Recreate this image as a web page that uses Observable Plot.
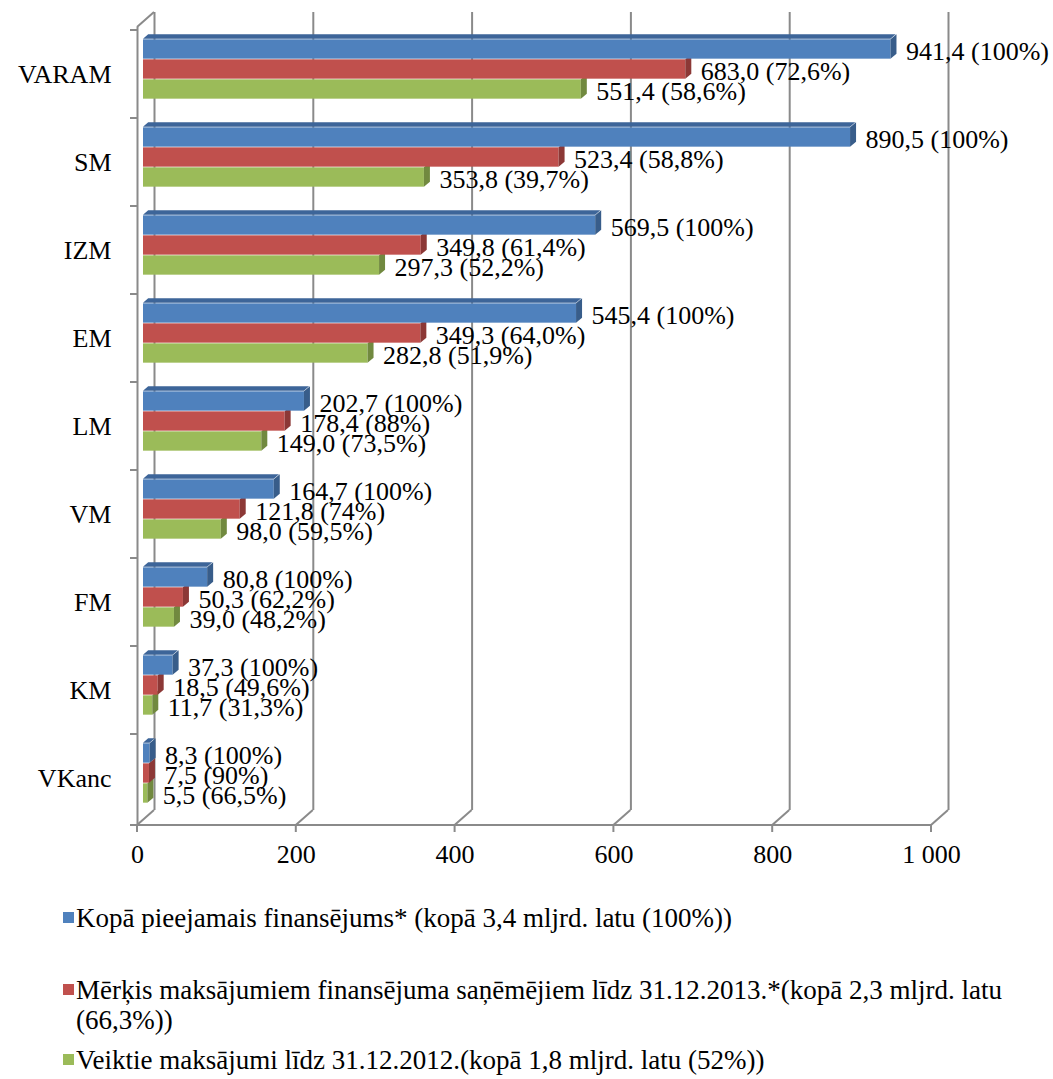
<!DOCTYPE html>
<html>
<head>
<meta charset="utf-8">
<script src="https://cdn.jsdelivr.net/npm/d3@7"></script>
<script src="https://cdn.jsdelivr.net/npm/@observablehq/plot@0.6"></script>
<style>
  body { margin: 0; background: #fff; }
  #wrap { position: relative; width: 1053px; height: 1079px; font-family: "Liberation Serif", "Times New Roman", serif; }
  .item { position: absolute; left: 63px; width: 975px; display: flex; align-items: flex-start; font-size: 27px; line-height: 30px; color: #000; }
  .sw { width: 11px; height: 11px; margin-top: 9px; margin-right: 2px; flex: none; }
</style>
</head>
<body>
<div id="wrap"><div id="chart"></div></div>
<script>
// ---- data ----
const categories = ["VARAM", "SM", "IZM", "EM", "LM", "VM", "FM", "KM", "VKanc"];
const seriesNames = [
  "Kopā pieejamais finansējums* (kopā 3,4 mljrd. latu (100%))",
  "Mērķis maksājumiem finansējuma saņēmējiem līdz 31.12.2013.*(kopā 2,3 mljrd. latu (66,3%))",
  "Veiktie maksājumi līdz 31.12.2012.(kopā 1,8 mljrd. latu (52%))"
];
const totalValues  = [941.4, 890.5, 569.5, 545.4, 202.7, 164.7, 80.8, 37.3, 8.3];
const totalPct     = ["100%", "100%", "100%", "100%", "100%", "100%", "100%", "100%", "100%"];
const targetValues = [683.0, 523.4, 349.8, 349.3, 178.4, 121.8, 50.3, 18.5, 7.5];
const targetPct    = ["72,6%", "58,8%", "61,4%", "64,0%", "88%", "74%", "62,2%", "49,6%", "90%"];
const paidValues   = [551.4, 353.8, 297.3, 282.8, 149.0, 98.0, 39.0, 11.7, 5.5];
const paidPct      = ["58,6%", "39,7%", "52,2%", "51,9%", "73,5%", "59,5%", "48,2%", "31,3%", "66,5%"];
const xTicks = [0, 200, 400, 600, 800, 1000];

// ---- style ----
const colors    = ["#4F81BD", "#C0504D", "#9BBB59"];
const topColors = ["#3D6599", "#9A3D3B", "#7A9444"];
const endColors = ["#385D8A", "#8C3836", "#71893F"];
const gray = "#8a8a8a";
const W = 1053, H = 880, mT = 27, mB = 55, mL = 137, mR = 122;
const bandH = (H - mT - mB) / categories.length;
const barH = 20, depthX = 6, depthY = 5;
const wallX = 17, wallY = 15;

const seriesData = [
  {values: totalValues, pct: totalPct},
  {values: targetValues, pct: targetPct},
  {values: paidValues, pct: paidPct}
].map((s, j) => categories.map((cat, i) => ({cat, value: s.values[i], pct: s.pct[i], series: seriesNames[j]})));

const fmt = v => d3.format(".1f")(v).replace(".", ",");

function frameMark(index, scales, values, dims) {
  const x = scales.x, y = scales.y;
  const top = dims.marginTop, bottom = dims.height - dims.marginBottom;
  const g = d3.create("svg:g").attr("stroke", gray).attr("stroke-width", 2).attr("fill", "none");
  const x0 = x(xTicks[0]);
  const line = (a, b, c, d) => g.append("line").attr("x1", a).attr("y1", b).attr("x2", c).attr("y2", d);
  line(x0, bottom, x(xTicks[xTicks.length - 1]), bottom);
  for (const t of xTicks) {
    const px = x(t);
    line(px, bottom, px + wallX, bottom - wallY);
    line(px, bottom, px, bottom + 7);
  }
  const bounds = categories.map(c => y(c)).concat([bottom]);
  for (const b of bounds) line(x0 - 7, b, x0, b);
  line(x0, top, x0 + wallX, top - wallY);
  return g.node();
}

const marks = [
  Plot.ruleX(xTicks, {dx: wallX, dy: -wallY, stroke: gray, strokeWidth: 2}),
  Plot.ruleX([0], {stroke: gray, strokeWidth: 2}),
  frameMark
];
const inset = (bandH - barH) / 2;
for (let j = 2; j >= 0; j--) {
  const dy = (j - 1) * barH - depthY;
  marks.push(Plot.barX(seriesData[j], {x: "value", y: "cat", fill: colors[j], insetTop: inset, insetBottom: inset, dx: depthX, dy}));
  marks.push(Plot.barX(seriesData[j], {x1: "value", x2: "value", y: "cat", fill: endColors[j], insetTop: inset, insetBottom: inset, insetLeft: 0, insetRight: -depthX, dx: depthX, dy, ariaDescription: "end-face"}));
  if (j === 0) {
    const ti = (bandH - depthY) / 2;
    marks.push(Plot.barX(seriesData[j], {x: "value", y: "cat", fill: topColors[j], insetTop: ti, insetBottom: ti, dx: depthX, dy: dy - barH / 2 - depthY / 2, ariaDescription: "top-face"}));
  }
}
for (let j = 0; j < 3; j++) {
  marks.push(Plot.text(seriesData[j], {
    x: "value", y: "cat", text: d => `${fmt(d.value)} (${d.pct})`,
    textAnchor: "start", dx: 21, dy: (j - 1) * barH - depthY + 2, fill: "#000"
  }));
}

const chart = Plot.plot({
  width: W, height: H,
  marginTop: mT, marginBottom: mB, marginLeft: mL, marginRight: mR,
  style: {fontFamily: "Liberation Serif, Times New Roman, serif", fontSize: "26px", background: "#fff", color: "#000", overflow: "visible"},
  x: {domain: [0, 1000], ticks: xTicks, tickFormat: d => d3.format(",")(d).replace(/,/g, " "), tickSize: 0, tickPadding: 19, label: null},
  y: {domain: categories, padding: 0, tickSize: 0, tickPadding: 26, label: null},
  marks
});

chart.querySelectorAll('g[aria-description="top-face"] rect').forEach(r => {
  const x = +r.getAttribute("x"), y = +r.getAttribute("y") + +r.getAttribute("height");
  const a = -Math.atan(depthX / depthY) * 180 / Math.PI;
  r.setAttribute("transform", `translate(${x},${y}) skewX(${a}) translate(${-x},${-y})`);
});
chart.querySelectorAll('g[aria-description="end-face"] rect').forEach(r => {
  const x = +r.getAttribute("x"), y = +r.getAttribute("y");
  const b = -Math.atan(depthY / depthX) * 180 / Math.PI;
  r.setAttribute("transform", `translate(${x},${y}) skewY(${b}) translate(${-x},${-y})`);
});

document.getElementById("chart").appendChild(chart);

const wrap = document.getElementById("wrap");
const legendTops = [903, 975, 1045];
seriesNames.forEach((name, j) => {
  const item = document.createElement("div");
  item.className = "item";
  item.style.top = legendTops[j] + "px";
  const sw = document.createElement("span");
  sw.className = "sw";
  sw.style.background = colors[j];
  const tx = document.createElement("span");
  tx.textContent = name;
  item.appendChild(sw);
  item.appendChild(tx);
  wrap.appendChild(item);
});
</script>
</body>
</html>
